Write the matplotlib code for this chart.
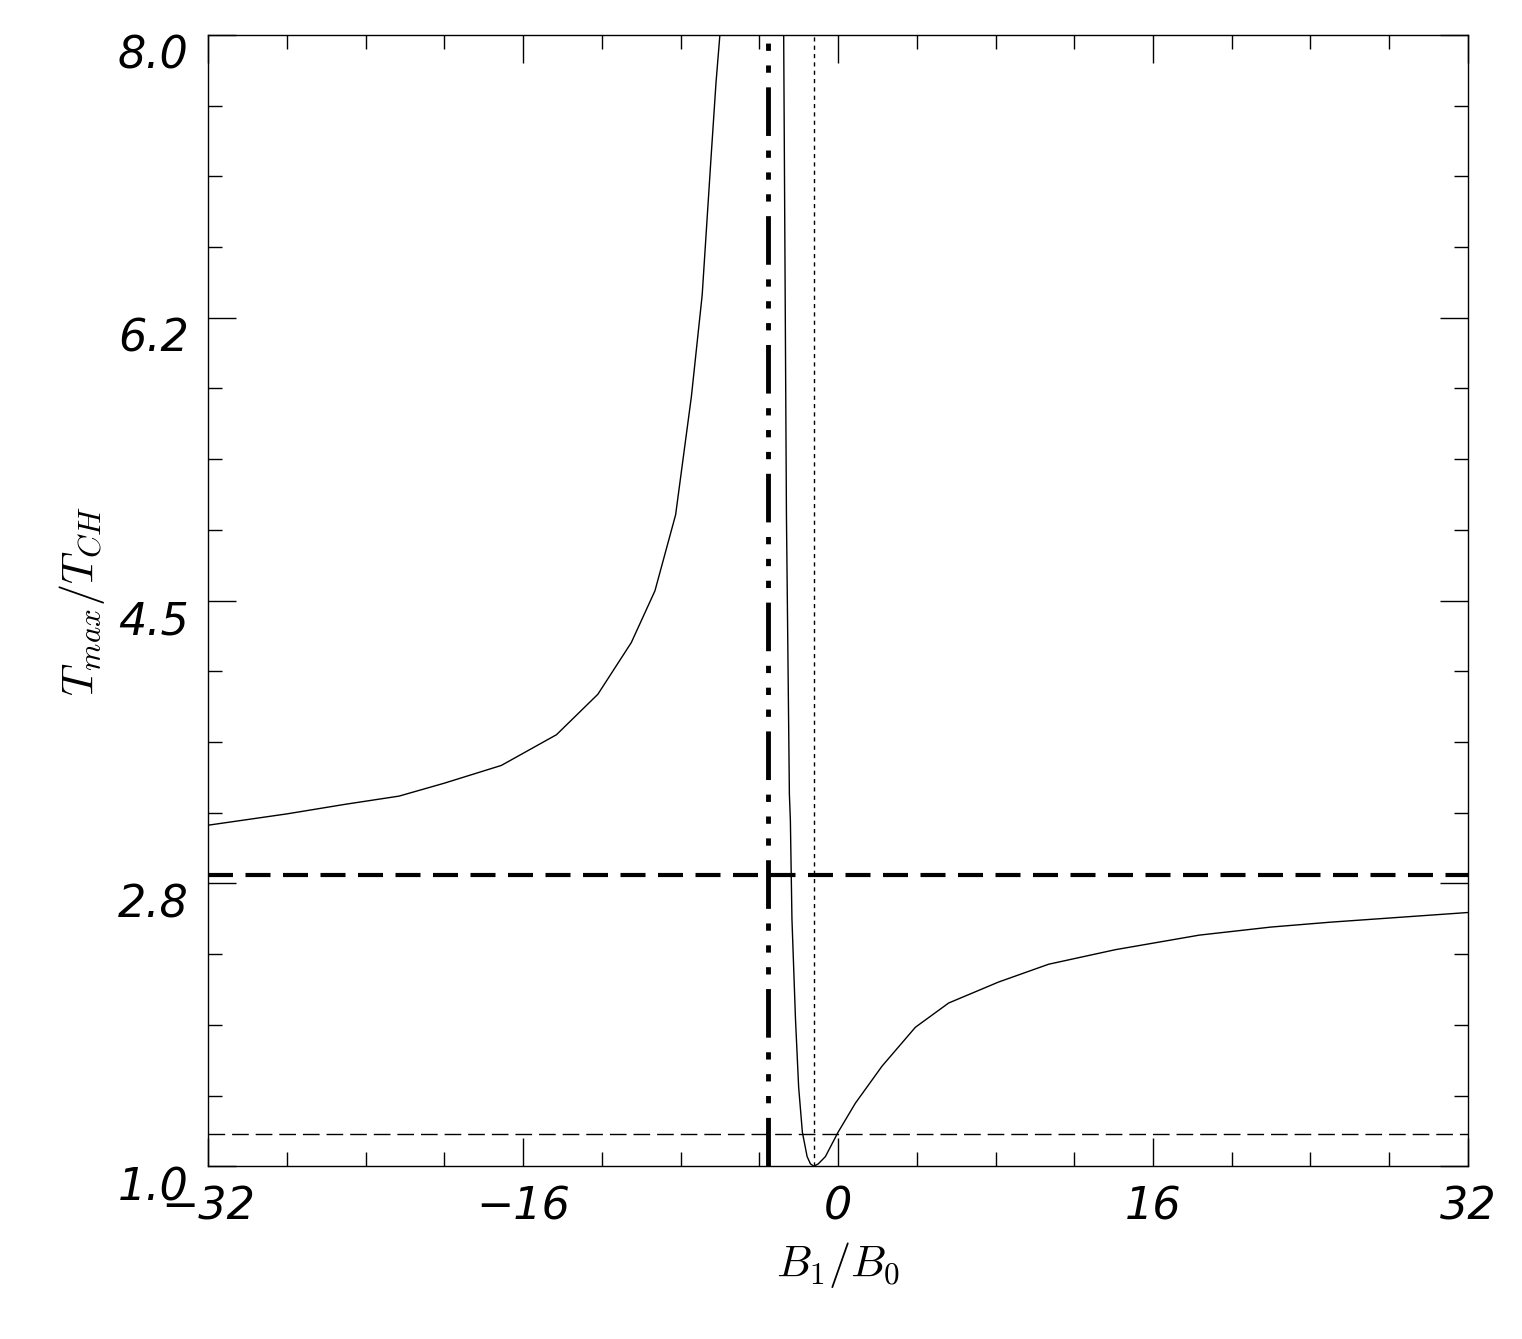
import matplotlib
matplotlib.use("Agg")
import matplotlib.pyplot as plt
from matplotlib.ticker import MultipleLocator, FixedLocator

# values
left_x = [-32, -28, -25, -22.3, -20, -17.1, -14.3, -12.2, -10.5, -9.3, -8.25, -7.45, -6.9, -6.45, -6.2, -6.0]
left_y = [3.11, 3.18, 3.24, 3.29, 3.37, 3.48, 3.67, 3.92, 4.24, 4.56, 5.03, 5.76, 6.39, 7.24, 7.7, 8.0]
right_x = [-2.76, -2.62, -2.47, -2.42, -2.34, -2.16, -2.0, -1.81, -1.57, -1.4, -1.23, -1.0, -0.64, 0.0, 0.88, 2.24,
           3.93, 5.62, 8.16, 10.7, 14.09, 18.35, 22, 25, 28.5, 32]
right_y = [8.0, 5.03, 3.3, 3.14, 2.53, 1.91, 1.49, 1.21, 1.06, 1.015, 1.0, 1.015, 1.06, 1.21, 1.39, 1.62,
           1.86, 2.01, 2.14, 2.25, 2.34, 2.43, 2.48, 2.51, 2.54, 2.57]
x_dotted = -1.2
x_dashdot = -3.57
y_thick_dash = 2.8
y_thin_dash = 1.2
yticks = [1.0, 2.75, 4.5, 6.25, 8.0]
ytick_labels = ["1.0", "2.8", "4.5", "6.2", "8.0"]
xticks = [-32, -16, 0, 16, 32]
xtick_labels = ["\u221232", "\u221216", "0", "16", "32"]

plt.rcParams['mathtext.fontset'] = 'cm'
fig = plt.figure(figsize=(15.22, 13.39), dpi=100)
ax = fig.add_axes([0.1367, 0.129, 0.8278, 0.845])

ax.plot(left_x, left_y, color="black", lw=1)
ax.plot(right_x, right_y, color="black", lw=1)
ax.axvline(x_dotted, color="black", lw=1, ls=(0, (3, 3)))
ax.axvline(x_dashdot, color="black", lw=3.5, ls=(0, (10, 3, 1.5, 3, 1.5, 3, 1.5, 3)))
ax.axhline(y_thick_dash, color="black", lw=3, ls=(0, (6, 3)))
ax.axhline(y_thin_dash, color="black", lw=1, ls=(0, (12, 5)))

ax.set_xlim(-32, 32)
ax.set_ylim(1.0, 8.0)
ax.set_xticks(xticks)
ax.set_xticklabels(xtick_labels)
ax.xaxis.set_minor_locator(MultipleLocator(4))
ax.set_yticks(yticks)
ax.set_yticklabels(ytick_labels)
ax.yaxis.set_minor_locator(FixedLocator([1.0 + 0.4375 * i for i in range(17)]))
ax.tick_params(which="both", direction="in", top=True, right=True, labelsize=32, width=1)
ax.tick_params(which="major", length=20, pad=14)
ax.tick_params(which="minor", length=10)
for lab in ax.get_xticklabels() + ax.get_yticklabels():
    lab.set_fontstyle("italic")
    lab.set_fontweight("light")
for lab in ax.get_yticklabels():
    lab.set_verticalalignment("top")
for s in ax.spines.values():
    s.set_linewidth(1)

ax.set_xlabel(r"$B_1/B_0$", fontsize=32, labelpad=8)
ax.set_ylabel(r"$T_{max}/T_{CH}$", fontsize=32, labelpad=8)

plt.savefig("out.png")
